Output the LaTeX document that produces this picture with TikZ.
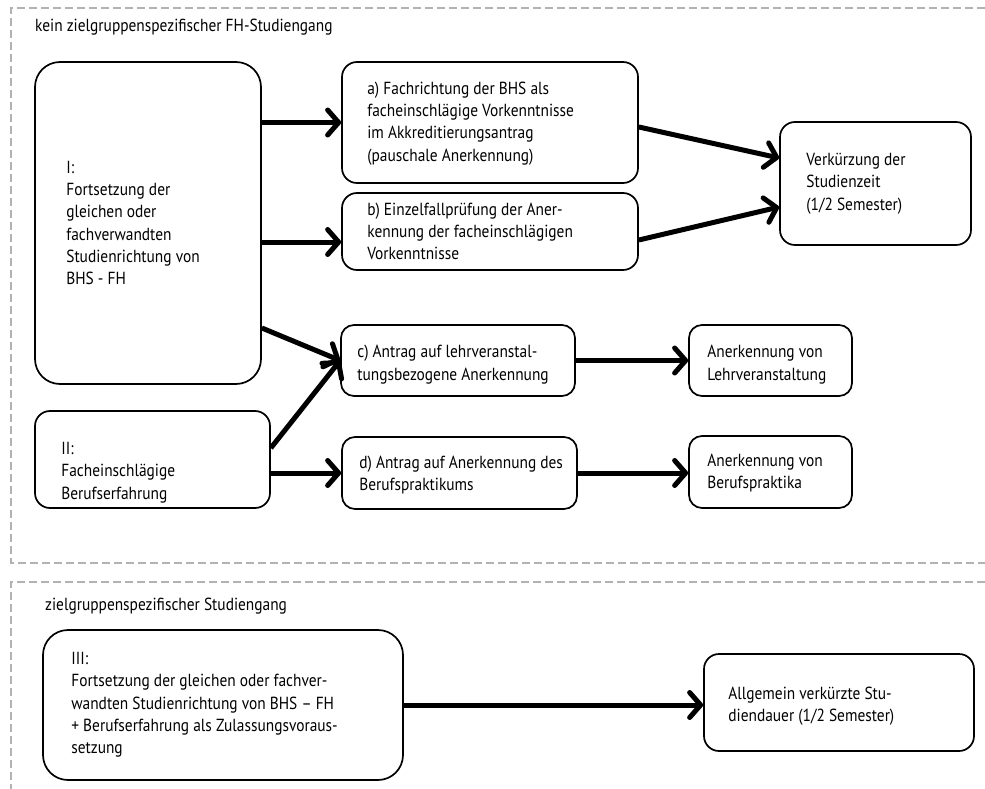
\documentclass[tikz,border=0pt]{standalone}
\usepackage{fontspec}
\setmainfont[FakeStretch=0.88]{PT Sans}
\usetikzlibrary{arrows.meta}
\begin{document}
\begin{tikzpicture}[x=1pt,y=-1pt,
  box/.style={draw,line width=1.7pt,rounded corners=15pt,inner sep=0pt},
  txt/.style={anchor=west,align=left,inner sep=0pt,font=\fontsize{17.5}{22.3}\selectfont},
  frame/.style={draw=black!30,line width=1.8pt,dash pattern=on 8pt off 4pt},
  arr/.style={line width=5pt,-{Straight Barb[length=11pt,width=25pt,round]}}]
\useasboundingbox (0,0) rectangle (985,789);
% frames
\draw[frame] (985,8) -- (11,8) -- (11,563) -- (985,563);
\draw[frame] (985,582) -- (11,582) -- (11,789);
\node[txt] (t1) at (35,27) {kein zielgruppenspezifischer FH-Studiengang};
\node[txt] (t2) at (45,606) {zielgruppenspezifischer Studiengang};
% boxes
\node[box,rounded corners=25pt,minimum width=226pt,minimum height=322pt] (I) at (148,223) {};
\node[box,minimum width=235pt,minimum height=97pt] (II) at (152.5,459.5) {};
\node[box,minimum width=296pt,minimum height=121pt] (a) at (490,122.5) {};
\node[box,minimum width=296pt,minimum height=77pt] (b) at (490,231.5) {};
\node[box,rounded corners=13pt,minimum width=234pt,minimum height=71pt] (c) at (458,360.5) {};
\node[box,rounded corners=13pt,minimum width=235pt,minimum height=72pt] (d) at (459.5,473) {};
\node[box,minimum width=191pt,minimum height=123pt] (V) at (875.5,183.5) {};
\node[box,rounded corners=13pt,minimum width=163pt,minimum height=71pt] (L) at (770.5,360.5) {};
\node[box,rounded corners=13pt,minimum width=163pt,minimum height=72pt] (P) at (770.5,472) {};
\node[box,rounded corners=25pt,minimum width=360pt,minimum height=150pt] (III) at (223,705) {};
\node[box,minimum width=270pt,minimum height=97pt] (A) at (839,702.5) {};
% texts
\node[txt] (It) at ([xshift=32pt]I.west)
  {I:\\Fortsetzung der\\gleichen oder\\fachverwandten\\Studienrichtung von\\BHS - FH};
\node[txt] (IIt) at ([xshift=27pt,yshift=-13pt]II.west)
  {II:\\Facheinschlägige\\Berufserfahrung};
\node[txt] (at) at ([xshift=26pt,yshift=-1pt]a.west)
  {a) Fachrichtung der BHS als\\facheinschlägige Vorkenntnisse\\im Akkreditierungsantrag\\(pauschale Anerkennung)};
\node[txt] (bt) at ([xshift=26pt]b.west)
  {b) Einzelfallprüfung der Aner-\\kennung der facheinschlägigen\\Vorkenntnisse};
\node[txt] (ct) at ([xshift=17pt,yshift=-4pt]c.west)
  {c) Antrag auf lehrveranstal-\\tungsbezogene Anerkennung};
\node[txt] (dt) at ([xshift=18pt,yshift=-2pt]d.west)
  {d) Antrag auf Anerkennung des\\Berufspraktikums};
\node[txt] (Vt) at ([xshift=27pt]V.west)
  {Verkürzung der\\Studienzeit\\(1/2 Semester)};
\node[txt] (Lt) at ([xshift=19pt,yshift=-4pt]L.west)
  {Anerkennung von\\Lehrveranstaltung};
\node[txt] (Pt) at ([xshift=19pt,yshift=-1pt]P.west)
  {Anerkennung von\\Berufspraktika};
\node[txt] (IIIt) at ([xshift=29pt]III.west)
  {III:\\Fortsetzung der gleichen oder fachver-\\wandten Studienrichtung von BHS – FH\\+ Berufserfahrung als Zulassungsvoraus-\\setzung};
\node[txt] (At) at ([xshift=25pt,yshift=-4pt]A.west)
  {Allgemein verkürzte Stu-\\diendauer (1/2 Semester)};
% arrows
\draw[arr] (I.east |- a.west) -- (a.west);
\draw[arr] ([yshift=-19pt]I.east) -- ([yshift=-10.5pt]b.west);
\draw[arr] ([yshift=-105pt]I.east) -- (c.west);
\draw[arr] ([yshift=11.5pt]II.east) -- (c.west);
\draw[arr] (II.east |- d.west) -- (d.west);
\draw[arr] ([yshift=-4.5pt]a.east) -- ([yshift=25.5pt]V.west);
\draw[arr] ([yshift=-8.5pt]b.east) -- ([yshift=-23.5pt]V.west);
\draw[arr] (c.east) -- (L.west);
\draw[arr] (d.east) -- (d.east -| P.west);
\draw[arr] (III.east) -- (III.east -| A.west);
\end{tikzpicture}
\end{document}
